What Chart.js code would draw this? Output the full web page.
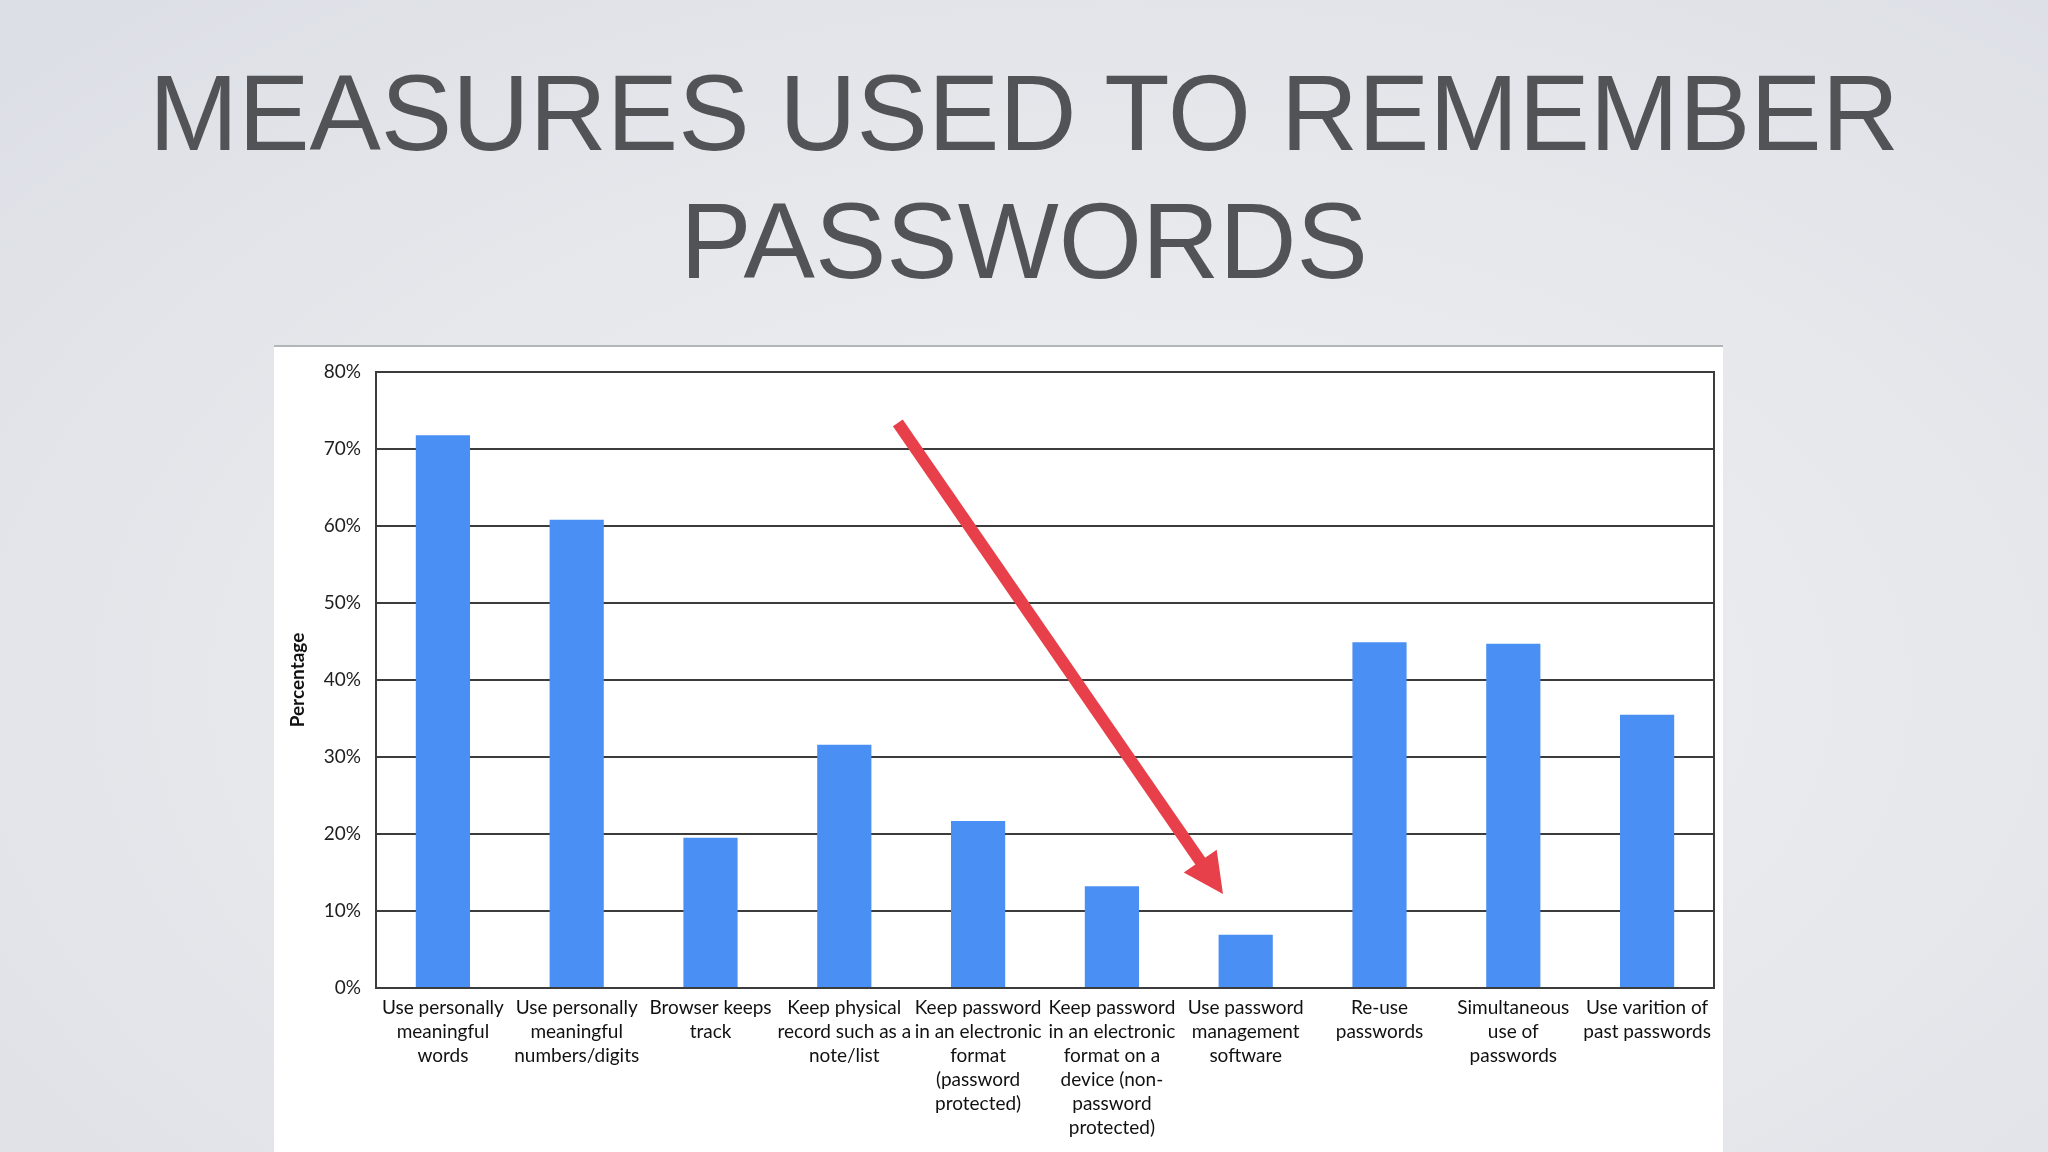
<!DOCTYPE html>
<html>
<head>
<meta charset="utf-8">
<script src="https://cdn.jsdelivr.net/npm/chart.js@4.4.1/dist/chart.umd.min.js"></script>
<style>
  html, body { margin: 0; padding: 0; }
  body {
    width: 2048px; height: 1152px; overflow: hidden; position: relative;
    background: radial-gradient(ellipse 75% 80% at 55% 60%, #eef0f3 0%, #e6e8ec 55%, #dcdfe5 100%);
  }
  #title {
    position: absolute; left: 0; top: 49px; width: 2048px; text-align: center;
    font-family: "Liberation Sans", Arial, sans-serif; font-size: 107px; line-height: 128px;
    color: #515356; letter-spacing: 0px;
  }
  #box {
    position: absolute; left: 274px; top: 345px; width: 1449px; height: 807px;
    background: #ffffff; box-shadow: inset 0 2px 0 #b3b5b8;
  }
  #c { position: absolute; left: 0; top: 0; }
</style>
</head>
<body>
<div id="title">MEASURES USED TO REMEMBER<br>PASSWORDS</div>
<div id="box"><canvas id="c" width="1449" height="807"></canvas></div>
<script>
const categories = [
  ["Use personally", "meaningful", "words"],
  ["Use personally", "meaningful", "numbers/digits"],
  ["Browser keeps", "track"],
  ["Keep physical", "record such as a", "note/list"],
  ["Keep password", "in an electronic", "format", "(password", "protected)"],
  ["Keep password", "in an electronic", "format on a", "device (non-", "password", "protected)"],
  ["Use password", "management", "software"],
  ["Re-use", "passwords"],
  ["Simultaneous", "use of", "passwords"],
  ["Use varition of", "past passwords"]
];
const percentages = [71.8, 60.8, 19.5, 31.6, 21.7, 13.2, 6.9, 44.9, 44.7, 35.5];
const yTicks = [0, 10, 20, 30, 40, 50, 60, 70, 80];
const yAxisTitle = "Percentage";
// annotation arrow, in data units [category index, percent]
const arrowStart = [3.40, 73.4];
const arrowEnd = [5.83, 12.2];

const frameAndArrow = {
  id: 'frameAndArrow',
  afterDraw(chart) {
    const {ctx, chartArea: a, scales: {x, y}} = chart;
    ctx.save();
    ctx.strokeStyle = '#3c3c3c';
    ctx.lineWidth = 2;
    ctx.strokeRect(a.left, a.top, a.right - a.left, a.bottom - a.top);
    const x0 = x.getPixelForValue(arrowStart[0]), y0 = y.getPixelForValue(arrowStart[1]);
    const x1 = x.getPixelForValue(arrowEnd[0]), y1 = y.getPixelForValue(arrowEnd[1]);
    const dx = x1 - x0, dy = y1 - y0, len = Math.hypot(dx, dy);
    const ux = dx / len, uy = dy / len;
    const headLen = 40, headHalf = 20;
    const bx = x1 - ux * headLen, by = y1 - uy * headLen;
    ctx.strokeStyle = '#e8404a';
    ctx.fillStyle = '#e8404a';
    ctx.lineWidth = 12;
    ctx.lineCap = 'butt';
    ctx.beginPath();
    ctx.moveTo(x0, y0);
    ctx.lineTo(bx + ux * 4, by + uy * 4);
    ctx.stroke();
    ctx.beginPath();
    ctx.moveTo(x1, y1);
    ctx.lineTo(bx - uy * headHalf, by + ux * headHalf);
    ctx.lineTo(bx + uy * headHalf, by - ux * headHalf);
    ctx.closePath();
    ctx.fill();
    ctx.restore();
  }
};

new Chart(document.getElementById('c'), {
  type: 'bar',
  data: {
    labels: categories,
    datasets: [{
      data: percentages,
      backgroundColor: '#4a8ff3',
      borderWidth: 0,
      barPercentage: 0.405,
      categoryPercentage: 1.0
    }]
  },
  options: {
    responsive: false,
    animation: false,
    devicePixelRatio: 1,
    layout: { padding: { top: 27, right: 9, left: 0, bottom: 0 } },
    plugins: { legend: { display: false }, tooltip: { enabled: false } },
    scales: {
      y: {
        min: 0, max: 80,
        afterBuildTicks(s) { s.ticks = yTicks.map(v => ({ value: v })); },
        afterFit(s) { s.width = 102; },
        ticks: {
          callback: v => v + '%',
          font: { family: 'Lato', size: 19 },
          color: '#1e1e1e',
          padding: 15
        },
        grid: { color: '#3c3c3c', lineWidth: 2, drawTicks: false },
        border: { display: true, color: '#3c3c3c', width: 2 },
        title: {
          display: true, text: yAxisTitle,
          font: { family: 'Lato', size: 19, weight: 'bold' },
          color: '#111111',
          padding: { top: 12, bottom: 0 }
        }
      },
      x: {
        afterFit(s) { s.height = 164; },
        ticks: {
          font: { family: 'Lato', size: 19, lineHeight: 1.26 },
          color: '#111111',
          padding: 8,
          maxRotation: 0, minRotation: 0, autoSkip: false
        },
        grid: { display: false, drawTicks: false },
        border: { display: true, color: '#3c3c3c', width: 2 }
      }
    }
  },
  plugins: [frameAndArrow]
});
</script>
</body>
</html>
